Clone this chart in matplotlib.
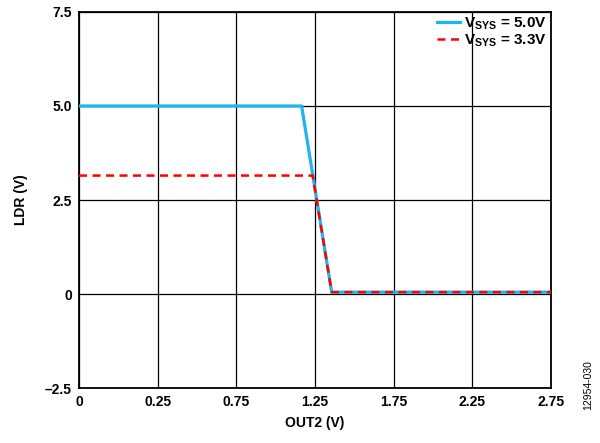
import matplotlib
matplotlib.use("Agg")
import matplotlib.pyplot as plt

plt.rcParams["font.family"] = ["Liberation Sans", "DejaVu Sans"]
plt.rcParams["font.weight"] = "bold"
plt.rcParams["mathtext.fontset"] = "custom"
plt.rcParams["mathtext.bf"] = "Liberation Sans:bold"
plt.rcParams["mathtext.rm"] = "Liberation Sans:bold"

# Curve data (OUT2 in V, LDR in V)
out2_5v = [-0.25, 1.165, 1.356, 2.75]
ldr_5v = [5.0, 5.0, 0.05, 0.05]
out2_3v3 = [-0.25, 1.235, 1.356, 2.75]
ldr_3v3 = [3.15, 3.15, 0.05, 0.05]

x_ticks = [-0.25, 0.25, 0.75, 1.25, 1.75, 2.25, 2.75]
x_labels = ["0", "0.25", "0.75", "1.25", "1.75", "2.25", "2.75"]
y_ticks = [-2.5, 0, 2.5, 5.0, 7.5]
y_labels = ["\u20132.5", "0", "2.5", "5.0", "7.5"]

fig = plt.figure(figsize=(6, 4.43), dpi=100)
ax = fig.add_axes([0.1317, 0.124, 0.7866, 0.849])

ax.plot(out2_5v, ldr_5v, color="#1eb4f0", lw=2.3, label=r"$\mathbf{V_{SYS}}$ = 5.0V", zorder=3)
ax.plot(out2_3v3, ldr_3v3, color="#ff0000", lw=1.8, ls=(0, (3.2, 2.2)),
        label=r"$\mathbf{V_{SYS}}$ = 3.3V", zorder=4)

ax.set_xlim(-0.25, 2.75)
ax.set_ylim(-2.5, 7.5)
ax.set_xticks(x_ticks)
ax.set_xticklabels(x_labels)
ax.set_yticks(y_ticks)
ax.set_yticklabels(y_labels)
ax.tick_params(length=0, labelsize=10, pad=5)
ax.grid(color="black", lw=0.9)
for s in ax.spines.values():
    s.set_linewidth(1.3)

ax.set_xlabel("OUT2 (V)", fontsize=10, fontweight="bold", labelpad=5)
ax.set_ylabel("LDR (V)", fontsize=10, fontweight="bold", labelpad=12)

leg = ax.legend(loc="upper right", frameon=False, fontsize=11, handlelength=1.5,
                handletextpad=0.3, labelspacing=0.0, borderaxespad=0.0,
                borderpad=0.25)
leg.set_zorder(5)

fig.text(0.98, 0.13, "12954-030", rotation=90, fontsize=7.5, fontweight="normal",
         ha="center", va="center")

fig.savefig("out.png", dpi=100)
